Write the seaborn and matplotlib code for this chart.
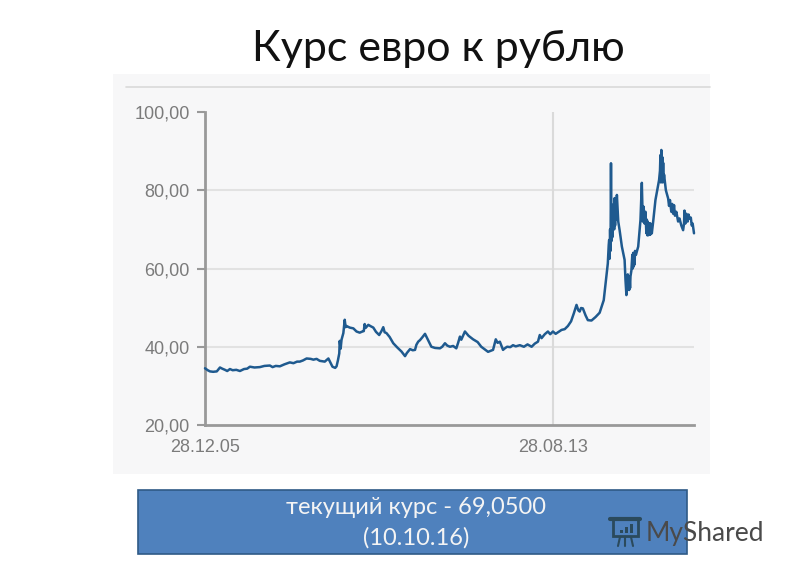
import matplotlib
matplotlib.use("Agg")
import matplotlib.pyplot as plt
from matplotlib.patches import Rectangle
import seaborn as sns

# rate, x is decimal year
years = [2005.99, 2006.05, 2006.10, 2006.17, 2006.25, 2006.32, 2006.37, 2006.43, 2006.48, 2006.54,
         2006.60, 2006.68, 2006.76, 2006.85, 2006.92, 2006.98, 2007.08, 2007.20, 2007.30, 2007.42,
         2007.48, 2007.55, 2007.64, 2007.74, 2007.86, 2007.94, 2008.02, 2008.08, 2008.15, 2008.23,
         2008.32, 2008.38, 2008.45, 2008.52, 2008.63, 2008.71, 2008.76, 2008.80, 2008.86, 2008.89,
         2008.92, 2008.95, 2008.96, 2008.98, 2009.00, 2009.04, 2009.07, 2009.09, 2009.11, 2009.18,
         2009.26, 2009.33, 2009.40, 2009.46, 2009.49, 2009.51, 2009.53, 2009.59, 2009.65, 2009.70,
         2009.76, 2009.83, 2009.88, 2009.92, 2009.95, 2009.99, 2010.06, 2010.14, 2010.23, 2010.32,
         2010.36, 2010.40, 2010.44, 2010.51, 2010.57, 2010.62, 2010.65, 2010.69, 2010.73, 2010.78,
         2010.84, 2010.90, 2010.98, 2011.06, 2011.17, 2011.22, 2011.28, 2011.33, 2011.39, 2011.46,
         2011.53, 2011.57, 2011.61, 2011.64, 2011.72, 2011.80, 2011.90, 2012.00, 2012.08, 2012.15,
         2012.23, 2012.34, 2012.40, 2012.44, 2012.49, 2012.56, 2012.60, 2012.65, 2012.72, 2012.78,
         2012.84, 2012.93, 2013.02, 2013.10, 2013.19, 2013.26, 2013.33, 2013.37, 2013.41, 2013.48,
         2013.55, 2013.60, 2013.66, 2013.72, 2013.85, 2013.92, 2013.99, 2014.06, 2014.12, 2014.18,
         2014.22, 2014.25, 2014.28, 2014.32, 2014.38, 2014.43, 2014.51, 2014.60, 2014.69, 2014.78,
         2014.81, 2014.84, 2014.87, 2014.89, 2014.90, 2014.91, 2014.92, 2014.93, 2014.94, 2014.95,
         2014.96, 2014.97, 2014.98, 2014.99, 2015.00, 2015.01, 2015.02, 2015.03, 2015.04, 2015.05,
         2015.07, 2015.10, 2015.13, 2015.18, 2015.24, 2015.26, 2015.28, 2015.29, 2015.30, 2015.31,
         2015.32, 2015.33, 2015.34, 2015.35, 2015.36, 2015.37, 2015.39, 2015.41, 2015.42, 2015.43,
         2015.44, 2015.45, 2015.46, 2015.47, 2015.49, 2015.54, 2015.59, 2015.62, 2015.64, 2015.66,
         2015.68, 2015.70, 2015.72, 2015.73, 2015.74, 2015.75, 2015.76, 2015.77, 2015.78, 2015.79,
         2015.80, 2015.81, 2015.82, 2015.83, 2015.84, 2015.87, 2015.92, 2016.00, 2016.02, 2016.03,
         2016.04, 2016.05, 2016.06, 2016.07, 2016.08, 2016.09, 2016.10, 2016.11, 2016.15, 2016.20,
         2016.22, 2016.24, 2016.27, 2016.29, 2016.31, 2016.33, 2016.35, 2016.38, 2016.42, 2016.45,
         2016.49, 2016.53, 2016.55, 2016.56, 2016.58, 2016.60, 2016.63, 2016.65, 2016.67, 2016.70,
         2016.72, 2016.74, 2016.77]
rate = [34.5, 34.0, 33.7, 33.6, 33.7, 34.7, 34.4, 34.1, 33.8, 34.3,
        34.0, 34.1, 33.8, 34.3, 34.4, 34.9, 34.7, 34.8, 35.1, 35.2,
        34.8, 35.1, 35.0, 35.5, 36.0, 35.8, 36.2, 36.2, 36.5, 37.0,
        36.9, 36.7, 36.9, 36.4, 36.2, 37.0, 35.8, 34.9, 34.6, 35.0,
        36.5, 38.3, 41.5, 39.5, 41.8, 43.5, 46.9, 45.0, 45.3, 44.9,
        44.7, 43.9, 43.6, 43.9, 44.0, 45.8, 44.8, 45.6, 45.2, 44.9,
        43.8, 43.0, 44.0, 45.0, 43.7, 43.5, 42.5, 40.9, 39.8, 38.8,
        38.2, 37.6, 38.4, 39.4, 39.1, 39.2, 40.5, 41.3, 41.7, 42.4,
        43.3, 41.9, 40.0, 39.7, 39.6, 40.0, 40.9, 40.3, 40.0, 40.2,
        39.6, 41.0, 42.6, 41.8, 43.9, 42.8, 41.9, 41.2, 40.0, 39.4,
        38.7, 39.2, 41.9, 41.0, 41.3, 39.2, 39.6, 40.0, 39.9, 40.4,
        40.1, 40.4, 40.0, 40.6, 40.0, 40.8, 41.3, 43.0, 42.2, 43.2,
        43.9, 43.2, 43.9, 43.3, 44.3, 44.5, 45.3, 46.5, 48.5, 50.7,
        49.3, 49.0, 49.9, 49.8, 48.0, 46.8, 46.7, 47.6, 48.7, 51.9,
        55.0, 57.9, 61.3, 66.0, 67.3, 62.5, 70.0, 64.5, 86.9, 67.0,
        74.0, 68.0, 75.4, 70.5, 76.5, 70.0, 78.0, 71.0, 77.0, 72.5,
        78.8, 72.0, 69.8, 65.6, 62.2, 57.0, 53.2, 58.0, 54.5, 58.5,
        55.0, 58.0, 54.5, 57.5, 55.0, 58.0, 59.5, 63.5, 60.0, 64.0,
        60.5, 63.5, 61.0, 64.5, 63.5, 65.6, 72.4, 81.9, 72.0, 75.8,
        71.5, 74.5, 69.0, 72.5, 68.5, 72.0, 68.5, 71.5, 68.6, 71.5,
        68.6, 71.5, 68.8, 71.0, 69.0, 72.0, 77.5, 82.6, 85.0, 89.0,
        82.0, 90.3, 82.5, 88.5, 82.0, 87.0, 82.5, 84.0, 80.0, 77.9,
        76.0, 77.5, 74.5, 76.5, 74.0, 76.2, 73.5, 74.5, 72.0, 72.8,
        71.0, 69.8, 71.5, 74.8, 71.5, 74.0, 72.0, 73.8, 72.8, 73.0,
        71.0, 71.5, 69.0]

yticks = [20, 40, 60, 80, 100]
ytick_labels = ["20,00", "40,00", "60,00", "80,00", "100,00"]
xticks = [2005.99, 2013.66]
xtick_labels = ["28.12.05", "28.08.13"]

title = "Курс евро к рублю"
box_lines = ["текущий курс - 69,0500", "(10.10.16)"]

W, H = 800, 578
TEXT_FONT = ["Lato", "Open Sans", "DejaVu Sans"]

sns.set_theme(style="white")
plt.rcParams["font.family"] = ["Liberation Sans", "DejaVu Sans"]

fig = plt.figure(figsize=(W / 100, H / 100), dpi=100, facecolor="white")

# page layer in pixel coordinates, holds the slide stuff around the chart
page = fig.add_axes([0, 0, 1, 1], zorder=0)
page.set_xlim(0, W)
page.set_ylim(H, 0)
page.axis("off")
page.add_patch(Rectangle((113, 74), 597, 400, fc="#f7f7f8", ec="none"))
page.plot([126, 710], [87, 87], color="#d9d9d9", lw=1.2)

page.text(438, 49, title, ha="center", va="center", fontsize=31, color="#111111", family=TEXT_FONT)

page.add_patch(Rectangle((138, 490), 549, 64, fc="#4f81bd", ec="#2f5a86", lw=1.2))
page.text(416, 508, box_lines[0], ha="center", va="center", fontsize=17, color="#f4f4f4", family=TEXT_FONT)
page.text(416, 538, box_lines[1], ha="center", va="center", fontsize=17, color="#f4f4f4", family=TEXT_FONT)

# watermark
mark = "#2b4a5c"
page.add_patch(Rectangle((613, 519), 25, 17, fc="none", ec=mark, lw=2))
page.plot([610, 640], [519, 519], color=mark, lw=3)
for bx, bh in zip([620, 625, 630], [3, 6, 9]):
    page.add_patch(Rectangle((bx, 533 - bh), 3, bh, fc=mark, ec="none"))
page.plot([620, 618], [537, 546], color=mark, lw=1.5)
page.plot([625, 625], [537, 546], color=mark, lw=1.5)
page.plot([631, 633], [537, 546], color=mark, lw=1.5)
page.text(646, 533, "MyShared", ha="left", va="center", fontsize=19, color="#4a4a4a", family=TEXT_FONT)

# chart
ax = fig.add_axes([205 / W, (H - 425) / H, (694 - 205) / W, 313 / H], zorder=1)
ax.patch.set_alpha(0)
ax.set_xlim(years[0], years[-1])
ax.set_ylim(20, 100)
for y in yticks[1:-1]:
    ax.axhline(y, color="#e2e2e2", lw=1.5, zorder=1)
ax.axvline(xticks[1], color="#dadada", lw=1.5, zorder=1)

sns.lineplot(x=years, y=rate, estimator=None, sort=False, color="#1f5a8f", lw=1.8, ax=ax, zorder=3, clip_on=False)

sns.despine(ax=ax)
for side in ["left", "bottom"]:
    ax.spines[side].set_color("#999999")
    ax.spines[side].set_linewidth(2)
ax.set_yticks(yticks, ytick_labels, fontsize=13, color="#7b7b7b")
ax.set_xticks(xticks, xtick_labels, fontsize=13, color="#7b7b7b")
ax.tick_params(axis="y", length=6, width=1.5, color="#999999", left=True, pad=5)
ax.tick_params(axis="x", length=0, pad=10)

fig.savefig("out.png", dpi=100)
